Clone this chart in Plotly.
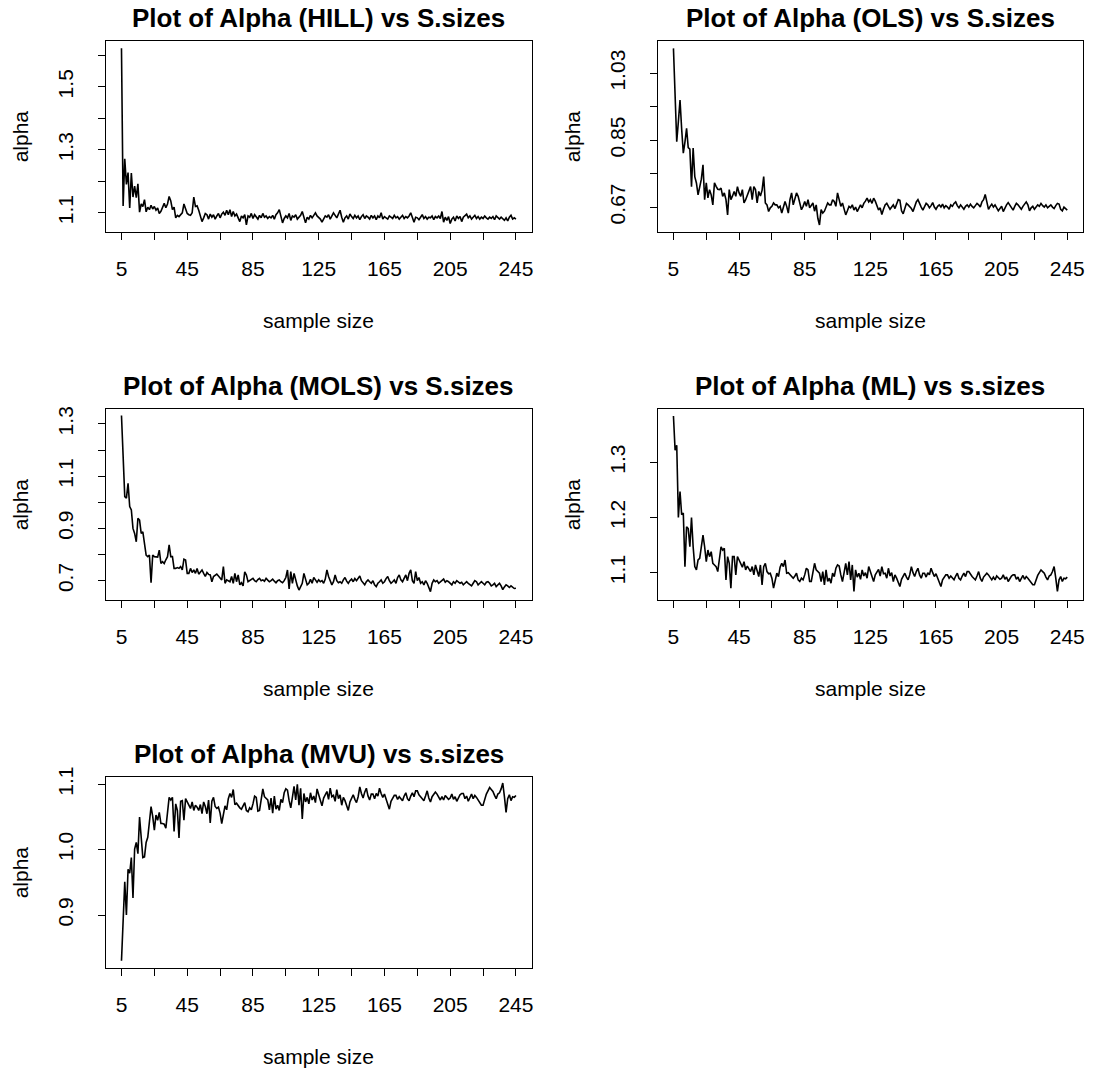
import plotly.graph_objects as go

# ---------------- data ----------------
sample_sizes = list(range(5, 246))

alpha_hill = [
    1.623, 1.122, 1.272, 1.190, 1.228, 1.115, 1.226, 1.150, 1.185, 1.148,
    1.192, 1.102, 1.128, 1.120, 1.142, 1.103, 1.118, 1.110, 1.124, 1.112,
    1.120, 1.108, 1.115, 1.098, 1.105, 1.118, 1.130, 1.116, 1.128, 1.152,
    1.138, 1.110, 1.118, 1.084, 1.092, 1.088, 1.096, 1.100, 1.128, 1.112,
    1.098, 1.094, 1.092, 1.100, 1.150, 1.120, 1.122, 1.108, 1.090, 1.072,
    1.084, 1.098, 1.094, 1.080, 1.096, 1.086, 1.094, 1.080, 1.090, 1.098,
    1.084, 1.096, 1.102, 1.092, 1.108, 1.094, 1.110, 1.088, 1.104, 1.090,
    1.096, 1.082, 1.072, 1.090, 1.084, 1.094, 1.062, 1.090, 1.086, 1.098,
    1.082, 1.094, 1.088, 1.080, 1.092, 1.084, 1.098, 1.086, 1.090, 1.082,
    1.088, 1.084, 1.092, 1.080, 1.094, 1.100, 1.110, 1.090, 1.068, 1.082,
    1.090, 1.084, 1.098, 1.076, 1.090, 1.086, 1.094, 1.080, 1.086, 1.092,
    1.104, 1.084, 1.068, 1.086, 1.080, 1.092, 1.084, 1.092, 1.100, 1.090,
    1.086, 1.080, 1.070, 1.082, 1.090, 1.086, 1.094, 1.080, 1.088, 1.100,
    1.092, 1.084, 1.096, 1.108, 1.086, 1.070, 1.084, 1.090, 1.080, 1.096,
    1.088, 1.082, 1.092, 1.084, 1.090, 1.078, 1.088, 1.094, 1.082, 1.090,
    1.086, 1.080, 1.092, 1.084, 1.090, 1.078, 1.090, 1.084, 1.100, 1.080,
    1.088, 1.084, 1.080, 1.090, 1.086, 1.082, 1.092, 1.084, 1.088, 1.080,
    1.086, 1.092, 1.082, 1.088, 1.084, 1.090, 1.100, 1.086, 1.070, 1.086,
    1.084, 1.078, 1.088, 1.094, 1.082, 1.088, 1.080, 1.086, 1.084, 1.090,
    1.078, 1.088, 1.084, 1.090, 1.082, 1.104, 1.070, 1.086, 1.076, 1.088,
    1.066, 1.080, 1.086, 1.074, 1.090, 1.082, 1.088, 1.072, 1.086, 1.092,
    1.096, 1.084, 1.090, 1.080, 1.086, 1.092, 1.082, 1.088, 1.080, 1.086,
    1.082, 1.090, 1.084, 1.080, 1.086, 1.082, 1.088, 1.078, 1.090, 1.084,
    1.080, 1.086, 1.082, 1.076, 1.084, 1.074, 1.086, 1.092, 1.080, 1.084,
    1.080,
]

alpha_ols = [
    1.097, 0.970, 0.846, 0.900, 0.958, 0.880, 0.815, 0.845, 0.882, 0.830,
    0.826, 0.725, 0.829, 0.752, 0.735, 0.703, 0.722, 0.745, 0.784, 0.690,
    0.735, 0.695, 0.717, 0.703, 0.676, 0.735, 0.726, 0.718, 0.717, 0.721,
    0.699, 0.708, 0.690, 0.649, 0.717, 0.690, 0.700, 0.712, 0.699, 0.725,
    0.708, 0.699, 0.717, 0.681, 0.690, 0.702, 0.717, 0.725, 0.690, 0.725,
    0.717, 0.681, 0.712, 0.700, 0.715, 0.752, 0.681, 0.676, 0.658, 0.668,
    0.672, 0.681, 0.676, 0.676, 0.668, 0.672, 0.654, 0.668, 0.685, 0.672,
    0.654, 0.690, 0.708, 0.676, 0.690, 0.708, 0.699, 0.681, 0.663, 0.672,
    0.685, 0.672, 0.690, 0.668, 0.676, 0.681, 0.659, 0.676, 0.640, 0.622,
    0.663, 0.654, 0.659, 0.672, 0.681, 0.676, 0.676, 0.690, 0.685, 0.672,
    0.708, 0.690, 0.672, 0.681, 0.665, 0.649, 0.660, 0.672, 0.668, 0.676,
    0.662, 0.670, 0.658, 0.666, 0.676, 0.668, 0.680, 0.686, 0.694, 0.684,
    0.690, 0.680, 0.694, 0.686, 0.672, 0.662, 0.668, 0.650, 0.664, 0.676,
    0.680, 0.672, 0.664, 0.670, 0.676, 0.666, 0.680, 0.690, 0.688, 0.660,
    0.652, 0.668, 0.680, 0.676, 0.672, 0.666, 0.658, 0.670, 0.684, 0.690,
    0.678, 0.670, 0.662, 0.672, 0.680, 0.676, 0.668, 0.674, 0.682, 0.670,
    0.664, 0.672, 0.676, 0.670, 0.678, 0.668, 0.674, 0.670, 0.664, 0.676,
    0.672, 0.680, 0.684, 0.674, 0.668, 0.676, 0.670, 0.664, 0.672, 0.676,
    0.670, 0.678, 0.672, 0.668, 0.674, 0.680, 0.676, 0.670, 0.684, 0.690,
    0.704, 0.684, 0.664, 0.672, 0.678, 0.670, 0.676, 0.668, 0.660, 0.666,
    0.672, 0.658, 0.668, 0.676, 0.682, 0.674, 0.668, 0.662, 0.672, 0.680,
    0.676, 0.670, 0.664, 0.672, 0.680, 0.684, 0.676, 0.660, 0.668, 0.672,
    0.664, 0.670, 0.676, 0.672, 0.680, 0.674, 0.670, 0.676, 0.668, 0.672,
    0.676, 0.670, 0.666, 0.674, 0.680, 0.678, 0.664, 0.660, 0.670, 0.666,
    0.662,
]

alpha_mols = [
    1.332, 1.136, 1.022, 1.016, 1.073, 0.984, 0.971, 0.900, 0.881, 0.849,
    0.939, 0.932, 0.881, 0.887, 0.843, 0.798, 0.792, 0.798, 0.692, 0.798,
    0.792, 0.792, 0.790, 0.817, 0.766, 0.773, 0.766, 0.780, 0.792, 0.837,
    0.792, 0.792, 0.747, 0.747, 0.750, 0.747, 0.754, 0.741, 0.782, 0.779,
    0.728, 0.728, 0.747, 0.731, 0.741, 0.728, 0.747, 0.725, 0.735, 0.741,
    0.728, 0.716, 0.731, 0.724, 0.722, 0.696, 0.716, 0.720, 0.725, 0.718,
    0.712, 0.703, 0.754, 0.690, 0.703, 0.700, 0.696, 0.716, 0.690, 0.728,
    0.696, 0.722, 0.684, 0.692, 0.680, 0.734, 0.722, 0.696, 0.700, 0.703,
    0.709, 0.700, 0.696, 0.704, 0.709, 0.700, 0.703, 0.698, 0.709, 0.702,
    0.696, 0.700, 0.706, 0.698, 0.692, 0.700, 0.703, 0.696, 0.692, 0.700,
    0.712, 0.741, 0.668, 0.735, 0.690, 0.728, 0.700, 0.680, 0.664, 0.676,
    0.690, 0.728, 0.700, 0.684, 0.690, 0.705, 0.690, 0.712, 0.703, 0.694,
    0.703, 0.696, 0.700, 0.690, 0.706, 0.741, 0.716, 0.700, 0.684, 0.696,
    0.722, 0.700, 0.692, 0.696, 0.690, 0.703, 0.712, 0.698, 0.690, 0.700,
    0.706, 0.696, 0.708, 0.700, 0.712, 0.718, 0.700, 0.690, 0.684, 0.696,
    0.703, 0.696, 0.690, 0.700, 0.684, 0.677, 0.690, 0.696, 0.703, 0.690,
    0.696, 0.708, 0.716, 0.700, 0.690, 0.696, 0.703, 0.690, 0.712, 0.722,
    0.703, 0.696, 0.712, 0.722, 0.700, 0.728, 0.741, 0.700, 0.690, 0.735,
    0.700, 0.712, 0.690, 0.696, 0.684, 0.700, 0.690, 0.676, 0.658, 0.690,
    0.703, 0.696, 0.700, 0.690, 0.696, 0.700, 0.706, 0.694, 0.700, 0.696,
    0.690, 0.684, 0.696, 0.690, 0.700, 0.696, 0.690, 0.694, 0.684, 0.690,
    0.696, 0.690, 0.684, 0.680, 0.690, 0.700, 0.696, 0.684, 0.690, 0.696,
    0.690, 0.684, 0.694, 0.696, 0.690, 0.680, 0.684, 0.690, 0.677, 0.684,
    0.690, 0.680, 0.666, 0.676, 0.684, 0.680, 0.674, 0.680, 0.676, 0.670,
    0.671,
]

alpha_ml = [
    1.384, 1.322, 1.331, 1.200, 1.247, 1.205, 1.208, 1.111, 1.183, 1.180,
    1.147, 1.200, 1.147, 1.111, 1.105, 1.123, 1.126, 1.150, 1.168, 1.147,
    1.120, 1.141, 1.129, 1.138, 1.117, 1.114, 1.111, 1.102, 1.129, 1.147,
    1.141, 1.144, 1.087, 1.129, 1.117, 1.072, 1.129, 1.129, 1.096, 1.129,
    1.123, 1.117, 1.110, 1.120, 1.105, 1.112, 1.108, 1.102, 1.111, 1.096,
    1.114, 1.105, 1.093, 1.114, 1.078, 1.111, 1.117, 1.102, 1.098, 1.099,
    1.090, 1.072, 1.085, 1.099, 1.093, 1.110, 1.117, 1.111, 1.123, 1.099,
    1.100, 1.096, 1.092, 1.090, 1.094, 1.099, 1.087, 1.084, 1.090, 1.087,
    1.096, 1.108, 1.105, 1.084, 1.084, 1.099, 1.117, 1.105, 1.102, 1.099,
    1.084, 1.102, 1.078, 1.105, 1.084, 1.090, 1.081, 1.099, 1.093, 1.108,
    1.114, 1.112, 1.096, 1.084, 1.100, 1.117, 1.096, 1.120, 1.087, 1.114,
    1.066, 1.105, 1.092, 1.099, 1.088, 1.105, 1.094, 1.100, 1.090, 1.111,
    1.102, 1.093, 1.084, 1.096, 1.100, 1.106, 1.094, 1.111, 1.098, 1.099,
    1.090, 1.108, 1.094, 1.100, 1.084, 1.096, 1.090, 1.082, 1.075, 1.088,
    1.094, 1.099, 1.092, 1.087, 1.096, 1.111, 1.100, 1.093, 1.102, 1.108,
    1.096, 1.090, 1.099, 1.099, 1.092, 1.100, 1.096, 1.108, 1.100, 1.093,
    1.098, 1.090, 1.084, 1.075, 1.087, 1.092, 1.096, 1.096, 1.090, 1.094,
    1.090, 1.087, 1.094, 1.099, 1.090, 1.087, 1.094, 1.099, 1.093, 1.102,
    1.102, 1.096, 1.093, 1.090, 1.087, 1.094, 1.102, 1.090, 1.084, 1.092,
    1.096, 1.099, 1.096, 1.090, 1.087, 1.092, 1.087, 1.094, 1.090, 1.088,
    1.090, 1.096, 1.088, 1.092, 1.084, 1.090, 1.094, 1.096, 1.096, 1.088,
    1.092, 1.084, 1.090, 1.095, 1.088, 1.093, 1.090, 1.086, 1.082, 1.078,
    1.078, 1.088, 1.095, 1.100, 1.105, 1.102, 1.099, 1.092, 1.087, 1.094,
    1.096, 1.102, 1.111, 1.090, 1.066, 1.087, 1.093, 1.084, 1.090, 1.089,
    1.092,
]

alpha_mvu = [
    0.830, 0.881, 0.951, 0.900, 0.970, 0.964, 0.988, 0.926, 1.001, 1.011,
    0.994, 1.050, 1.012, 0.988, 0.989, 1.011, 1.019, 1.045, 1.066, 1.051,
    1.030, 1.053, 1.045, 1.057, 1.040, 1.040, 1.039, 1.033, 1.061, 1.080,
    1.076, 1.080, 1.028, 1.070, 1.060, 1.018, 1.074, 1.075, 1.045, 1.078,
    1.073, 1.068, 1.063, 1.073, 1.060, 1.068, 1.065, 1.060, 1.069, 1.055,
    1.073, 1.066, 1.055, 1.076, 1.041, 1.074, 1.080, 1.066, 1.063, 1.065,
    1.056, 1.040, 1.053, 1.067, 1.061, 1.078, 1.086, 1.080, 1.092, 1.069,
    1.071, 1.067, 1.064, 1.062, 1.066, 1.072, 1.060, 1.058, 1.064, 1.061,
    1.070, 1.082, 1.080, 1.059, 1.060, 1.075, 1.093, 1.081, 1.078, 1.076,
    1.061, 1.079, 1.056, 1.082, 1.062, 1.068, 1.060, 1.077, 1.072, 1.087,
    1.093, 1.091, 1.075, 1.064, 1.080, 1.097, 1.076, 1.100, 1.068, 1.094,
    1.047, 1.086, 1.073, 1.080, 1.070, 1.087, 1.076, 1.082, 1.072, 1.093,
    1.084, 1.076, 1.067, 1.079, 1.083, 1.089, 1.077, 1.094, 1.081, 1.083,
    1.074, 1.092, 1.078, 1.084, 1.068, 1.080, 1.075, 1.067, 1.060, 1.073,
    1.079, 1.084, 1.077, 1.072, 1.081, 1.096, 1.086, 1.079, 1.088, 1.094,
    1.082, 1.076, 1.085, 1.085, 1.078, 1.086, 1.082, 1.094, 1.086, 1.080,
    1.085, 1.077, 1.071, 1.062, 1.074, 1.079, 1.083, 1.083, 1.077, 1.081,
    1.078, 1.075, 1.082, 1.087, 1.078, 1.075, 1.082, 1.087, 1.081, 1.090,
    1.090, 1.084, 1.081, 1.078, 1.075, 1.082, 1.090, 1.079, 1.073, 1.081,
    1.085, 1.088, 1.085, 1.079, 1.076, 1.081, 1.076, 1.083, 1.079, 1.077,
    1.079, 1.085, 1.077, 1.081, 1.074, 1.080, 1.084, 1.086, 1.086, 1.078,
    1.082, 1.074, 1.080, 1.085, 1.078, 1.083, 1.080, 1.076, 1.072, 1.068,
    1.068, 1.078, 1.085, 1.090, 1.095, 1.092, 1.089, 1.083, 1.078, 1.085,
    1.087, 1.093, 1.102, 1.081, 1.057, 1.078, 1.084, 1.075, 1.081, 1.080,
    1.083,
]

x_tick_vals = [5, 25, 45, 65, 85, 105, 125, 145, 165, 185, 205, 225, 245]
x_tick_text = ["5", "", "45", "", "85", "", "125", "", "165", "", "205", "", "245"]

hill_ticks = [1.1, 1.2, 1.3, 1.4, 1.5, 1.6]
hill_tick_text = ["1.1", "", "1.3", "", "1.5", ""]
ols_ticks = [0.67, 0.76, 0.85, 0.94, 1.03]
ols_tick_text = ["0.67", "", "0.85", "", "1.03"]
mols_ticks = [0.7, 0.8, 0.9, 1.0, 1.1, 1.2, 1.3]
mols_tick_text = ["0.7", "", "0.9", "", "1.1", "", "1.3"]
ml_ticks = [1.1, 1.2, 1.3]
ml_tick_text = ["1.1", "1.2", "1.3"]
mvu_ticks = [0.9, 1.0, 1.1]
mvu_tick_text = ["0.9", "1.0", "1.1"]

titles = [
    "Plot of Alpha (HILL) vs S.sizes",
    "Plot of Alpha (OLS) vs S.sizes",
    "Plot of Alpha (MOLS) vs S.sizes",
    "Plot of Alpha (ML) vs s.sizes",
    "Plot of Alpha (MVU) vs s.sizes",
]

# ---------------- layout ----------------
W, H = 1094, 1072
FONT = "Liberation Sans, Arial, Helvetica, sans-serif"
TICK_SIZE = 21
TITLE_SIZE = 26

col_left = [105.7, 657.7]
col_right = [531.7, 1083.0]
row_top = [41.3, 409.3, 777.3]
row_bottom = [232.0, 600.0, 968.0]
row_step = 368.0

panels = [
    dict(y=alpha_hill, yr=[1.039, 1.645], tv=hill_ticks, tt=hill_tick_text, r=0, c=0),
    dict(y=alpha_ols, yr=[0.603, 1.116], tv=ols_ticks, tt=ols_tick_text, r=0, c=1),
    dict(y=alpha_mols, yr=[0.626, 1.356], tv=mols_ticks, tt=mols_tick_text, r=1, c=0),
    dict(y=alpha_ml, yr=[1.0505, 1.396], tv=ml_ticks, tt=ml_tick_text, r=1, c=1),
    dict(y=alpha_mvu, yr=[0.819, 1.1107], tv=mvu_ticks, tt=mvu_tick_text, r=2, c=0),
]

fig = go.Figure()
annotations = []
layout = {}

for i, p in enumerate(panels):
    k = "" if i == 0 else str(i + 1)
    xname, yname = "x" + k, "y" + k
    fig.add_trace(go.Scatter(
        x=sample_sizes, y=p["y"], mode="lines",
        line=dict(color="black", width=1.6),
        xaxis=xname, yaxis=yname, showlegend=False, hoverinfo="x+y",
    ))
    x0, x1 = col_left[p["c"]], col_right[p["c"]]
    yt, yb = row_top[p["r"]], row_bottom[p["r"]]
    common = dict(
        showline=True, mirror=True, linecolor="black", linewidth=1.3,
        ticks="outside", ticklen=7, tickwidth=1.3, tickcolor="black",
        showgrid=False, zeroline=False, automargin=False,
        tickfont=dict(family=FONT, size=TICK_SIZE, color="black"),
    )
    layout["xaxis" + k] = dict(
        common, domain=[x0 / W, x1 / W], anchor=yname,
        range=[-4.6, 254.6], tickmode="array",
        tickvals=x_tick_vals, ticktext=x_tick_text,
        ticklabelstandoff=11,
    )
    layout["yaxis" + k] = dict(
        common, domain=[1 - yb / H, 1 - yt / H], anchor=xname,
        range=p["yr"], tickmode="array", tickvals=p["tv"], ticktext=p["tt"],
        tickangle=-90, ticklabelstandoff=16,
    )
    cx = (x0 + x1) / 2
    # panel title
    annotations.append(dict(
        text="<b>" + titles[i] + "</b>", x=cx / W, y=1 - (18 + p["r"] * row_step) / H,
        xref="paper", yref="paper", xanchor="center", yanchor="middle",
        showarrow=False, font=dict(family=FONT, size=TITLE_SIZE, color="black"),
    ))
    # x axis title
    annotations.append(dict(
        text="sample size", x=cx / W, y=1 - (320.6 + p["r"] * row_step) / H,
        xref="paper", yref="paper", xanchor="center", yanchor="middle",
        showarrow=False, font=dict(family=FONT, size=TICK_SIZE, color="black"),
    ))
    # y axis title
    annotations.append(dict(
        text="alpha", x=(x0 - 85) / W, y=1 - ((yt + yb) / 2) / H,
        xref="paper", yref="paper", xanchor="center", yanchor="middle",
        textangle=-90, showarrow=False,
        font=dict(family=FONT, size=TICK_SIZE, color="black"),
    ))

fig.update_layout(
    template="none",
    width=W, height=H,
    margin=dict(l=0, r=0, t=0, b=0, autoexpand=False),
    paper_bgcolor="white", plot_bgcolor="white",
    showlegend=False,
    annotations=annotations,
    **layout,
)

fig.write_html("out.html")
